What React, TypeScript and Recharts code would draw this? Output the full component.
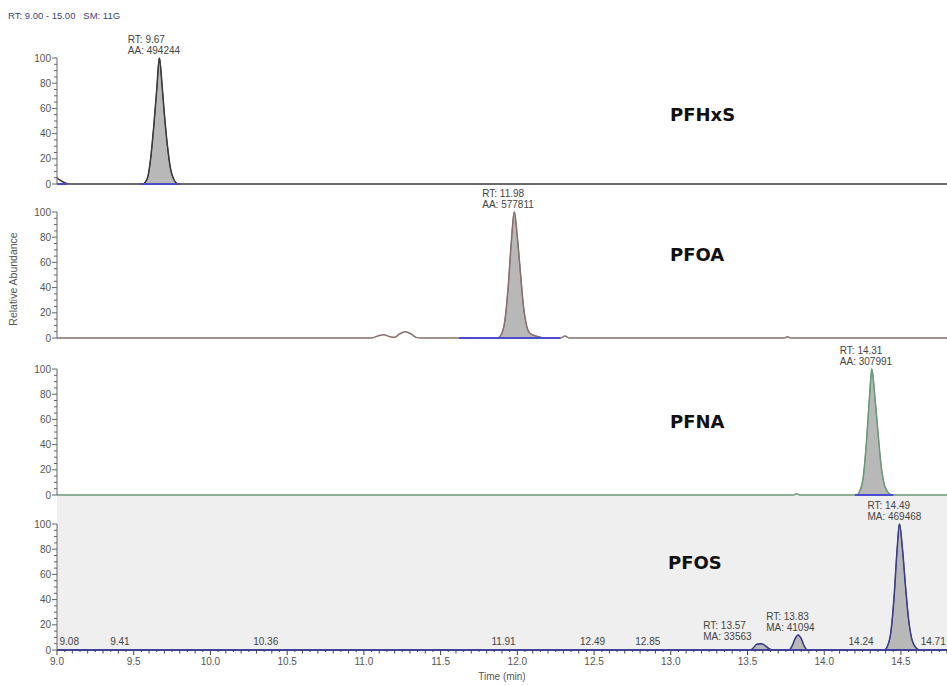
import React from 'react';
import { ComposedChart, Area, Line, XAxis, YAxis, ReferenceDot, ReferenceLine } from 'recharts';

// time axis shown in the picture (the right end is cut off)
const xDomain: [number, number] = [9, 14.8];
const xMajorTicks = [9.0, 9.5, 10.0, 10.5, 11.0, 11.5, 12.0, 12.5, 13.0, 13.5, 14.0, 14.5];
const yMajorTicks = [0, 20, 40, 60, 80, 100];

// PFHxS
const pfhxsTime = [9.0, 9.02, 9.05, 9.08, 9.56, 9.59, 9.61, 9.63, 9.65, 9.667, 9.685, 9.7, 9.72, 9.74, 9.76, 9.79, 14.8];
const pfhxsAbund = [5, 3, 1, 0, 0, 5, 20, 45, 75, 100, 78, 55, 30, 12, 4, 0, 0];
const pfhxsFill = [[9.56, 9.79]];
const pfhxsBase = [[9.0, 9.07], [9.54, 9.8]];
const pfhxsPeaks = [{ rt: 9.67, area: 'AA: 494244', top: 100 }];

// PFOA
const pfoaTime = [9.0, 11.05, 11.1, 11.13, 11.17, 11.2, 11.23, 11.27, 11.31, 11.34, 11.37, 11.87, 11.9, 11.92, 11.94, 11.96, 11.98, 12.0, 12.02, 12.04, 12.06, 12.08, 12.11, 12.14, 12.17, 12.28, 12.31, 12.34, 13.74, 13.76, 13.78, 14.8];
const pfoaAbund = [0, 0, 2, 2.5, 1, 0.5, 3, 5, 3, 0.5, 0, 0, 4, 15, 40, 75, 100, 80, 52, 25, 10, 4, 2, 1, 0, 0, 1.5, 0, 0, 1, 0, 0];
const pfoaFill = [[11.87, 12.17]];
const pfoaBase = [[11.62, 12.28]];
const pfoaPeaks = [{ rt: 11.98, area: 'AA: 577811', top: 100 }];

// PFNA
const pfnaTime = [9.0, 13.8, 13.82, 13.84, 14.21, 14.235, 14.255, 14.275, 14.295, 14.31, 14.33, 14.35, 14.37, 14.39, 14.41, 14.44, 14.8];
const pfnaAbund = [0, 0, 1, 0, 0, 4, 15, 42, 78, 100, 78, 50, 24, 9, 3, 0, 0];
const pfnaFill = [[14.21, 14.44]];
const pfnaBase = [[14.2, 14.45]];
const pfnaPeaks = [{ rt: 14.31, area: 'AA: 307991', top: 100 }];

// PFOS
const pfosTime = [9.0, 13.52, 13.54, 13.56, 13.59, 13.62, 13.64, 13.66, 13.77, 13.79, 13.81, 13.83, 13.85, 13.87, 13.89, 14.39, 14.415, 14.435, 14.455, 14.475, 14.49, 14.51, 14.53, 14.55, 14.57, 14.59, 14.62, 14.8];
const pfosAbund = [0, 0, 2, 4.5, 5, 3, 1, 0, 0, 3, 9, 12, 9, 3, 0, 0, 4, 15, 42, 80, 100, 80, 50, 24, 9, 3, 0, 0];
const pfosFill = [[13.52, 13.66], [13.77, 13.89], [14.39, 14.62]];
const pfosBase = [[9.0, 14.8]];
const pfosPeaks = [
  { rt: 13.57, area: 'MA: 33563', top: 5 },
  { rt: 13.83, area: 'MA: 41094', top: 12 },
  { rt: 14.49, area: 'MA: 469468', top: 100 },
];
const pfosNoiseRT = [9.08, 9.41, 10.36, 11.91, 12.49, 12.85, 14.24, 14.71];

// left shift of each peak label block (layout only)
const labelShift: Record<string, number> = { '13.57': -55 };

const W = 947;
const AXIS_W = 57;
const TOP_PAD = 32;
const PLOT_H = 126;
const X_AXIS_H = 36;
const FONT = 'Arial, "Liberation Sans", sans-serif';
const FS = 10;

function rows(times: number[], abund: number[], fills: number[][]) {
  return times.map((t, i) => ({
    t,
    v: abund[i],
    fill: fills.some(([a, b]) => t >= a - 1e-9 && t <= b + 1e-9) ? abund[i] : null,
  }));
}

const xTicks: number[] = [];
for (let i = 0; i <= 116; i++) xTicks.push(Math.round((9 + i * 0.05) * 100) / 100);
const yTicks: number[] = [];
for (let v = 0; v <= 100; v += 5) yTicks.push(v);

const YTick = (p: any) => {
  const { x, y, payload } = p;
  const v = payload.value;
  const major = yMajorTicks.includes(v);
  return (
    <g>
      <line x1={major ? x - 5 : x - 3} x2={x} y1={y} y2={y} stroke="#666" strokeWidth={1} />
      {major && (
        <text x={x - 6} y={y + 3.5} textAnchor="end" fontSize={FS} fill="#555" fontFamily={FONT}>
          {v}
        </text>
      )}
    </g>
  );
};

const XTick = (p: any) => {
  const { x, y, payload } = p;
  const v = payload.value;
  const major = xMajorTicks.some((m) => Math.abs(m - v) < 1e-6);
  const tenth = Math.abs(v * 10 - Math.round(v * 10)) < 1e-6;
  const len = major ? 5 : tenth ? 3.5 : 2;
  return (
    <g>
      <line x1={x} x2={x} y1={y} y2={y + len} stroke="#444" strokeWidth={1} />
      {major && (
        <text x={x} y={y + 15} textAnchor="middle" fontSize={FS} fill="#555" fontFamily={FONT}>
          {v.toFixed(1)}
        </text>
      )}
    </g>
  );
};

function peakLabel(rt: number, area: string) {
  const dx = labelShift[String(rt)] ?? -32;
  return (p: any) => {
    const vb = p.viewBox || { x: 0, y: 0 };
    return (
      <g>
        <text x={vb.x + dx} y={vb.y - 15} fontSize={FS} fill="#444" fontFamily={FONT}>{`RT: ${rt.toFixed(2)}`}</text>
        <text x={vb.x + dx} y={vb.y - 4} fontSize={FS} fill="#444" fontFamily={FONT}>{area}</text>
      </g>
    );
  };
}

function noiseLabel(rt: number) {
  return (p: any) => {
    const vb = p.viewBox || { x: 0, y: 0 };
    return (
      <text x={vb.x} y={vb.y - 5} textAnchor="middle" fontSize={FS} fill="#444" fontFamily={FONT}>
        {rt.toFixed(2)}
      </text>
    );
  };
}

type PanelProps = {
  top: number;
  data: { t: number; v: number; fill: number | null }[];
  color: string;
  base: number[][];
  peaks: { rt: number; area: string; top: number }[];
  noise?: number[];
  showX?: boolean;
  yLabel?: boolean;
};

function Panel(props: PanelProps) {
  const bottom = props.showX ? 0 : 6;
  const height = TOP_PAD + PLOT_H + (props.showX ? X_AXIS_H : bottom);
  return (
    <div style={{ position: 'absolute', left: 0, top: props.top - TOP_PAD, width: W, height }}>
      <ComposedChart width={W} height={height} data={props.data} margin={{ top: TOP_PAD, right: 0, left: 0, bottom }}>
        <XAxis
          dataKey="t"
          type="number"
          domain={xDomain}
          allowDataOverflow
          ticks={xTicks}
          interval={0}
          hide={!props.showX}
          tickSize={0}
          tickMargin={0}
          tick={<XTick />}
          axisLine={{ stroke: '#3c3c8c', strokeWidth: 1.5 }}
          height={X_AXIS_H}
          label={props.showX ? { value: 'Time (min)', position: 'insideBottom', offset: 6, fontSize: FS, fill: '#555', fontFamily: FONT } : undefined}
        />
        <YAxis
          type="number"
          domain={[0, 100]}
          ticks={yTicks}
          interval={0}
          width={AXIS_W}
          tickSize={0}
          tickMargin={0}
          tick={<YTick />}
          axisLine={{ stroke: '#666' }}
          label={
            props.yLabel
              ? {
                  content: (p: any) => {
                    const vb = p.viewBox;
                    const cx = 17;
                    const cy = vb.y + vb.height / 2 + 4;
                    return (
                      <text x={cx} y={cy} transform={`rotate(-90 ${cx} ${cy})`} textAnchor="middle" fontSize={10.5} fill="#555" fontFamily={FONT}>
                        Relative Abundance
                      </text>
                    );
                  },
                }
              : undefined
          }
        />
        <Area
          type="monotone"
          dataKey="fill"
          stroke={props.color}
          strokeWidth={1}
          fill="#b8b8b8"
          fillOpacity={1}
          connectNulls={false}
          isAnimationActive={false}
        />
        <Line type="monotone" dataKey="v" stroke={props.color} strokeWidth={1.5} dot={false} isAnimationActive={false} />
        {props.base.map(([a, b], i) => (
          <ReferenceLine
            key={'b' + i}
            segment={[{ x: a, y: 0 }, { x: b, y: 0 }]}
            stroke="#4b4bd0"
            strokeWidth={2}
            ifOverflow="visible"
          />
        ))}
        {props.peaks.map((pk) => (
          <ReferenceDot key={'p' + pk.rt} x={pk.rt} y={pk.top} r={0} fill="none" stroke="none" label={peakLabel(pk.rt, pk.area)} />
        ))}
        {(props.noise || []).map((rt) => (
          <ReferenceDot key={'n' + rt} x={rt} y={0} r={0} fill="none" stroke="none" ifOverflow="visible" label={noiseLabel(rt)} />
        ))}
      </ComposedChart>
    </div>
  );
}

const titleStyle: React.CSSProperties = {
  position: 'absolute',
  left: 670,
  fontFamily: '"DejaVu Sans", Verdana, sans-serif',
  fontWeight: 'bold',
  fontSize: 18,
  lineHeight: '20px',
  color: '#111',
};

export default function App() {
  return (
    <div style={{ position: 'absolute', left: 0, top: 0, width: W, height: 686, background: '#fff', overflow: 'hidden' }}>
      <div style={{ position: 'absolute', left: AXIS_W, top: 495, width: W - AXIS_W, height: 155, background: '#efefef' }} />
      <div style={{ position: 'absolute', left: 8, top: 10, fontFamily: FONT, fontSize: 9.5, color: '#3b4386', whiteSpace: 'pre' }}>
        RT: 9.00 - 15.00   SM: 11G
      </div>
      <Panel top={58} data={rows(pfhxsTime, pfhxsAbund, pfhxsFill)} color="#3a3a3a" base={pfhxsBase} peaks={pfhxsPeaks} />
      <Panel top={212} data={rows(pfoaTime, pfoaAbund, pfoaFill)} color="#8a6f6f" base={pfoaBase} peaks={pfoaPeaks} yLabel />
      <Panel top={369} data={rows(pfnaTime, pfnaAbund, pfnaFill)} color="#6a9a7a" base={pfnaBase} peaks={pfnaPeaks} />
      <Panel top={524} data={rows(pfosTime, pfosAbund, pfosFill)} color="#3c3c8c" base={pfosBase} peaks={pfosPeaks} noise={pfosNoiseRT} showX />
      <div style={{ ...titleStyle, top: 105 }}>PFHxS</div>
      <div style={{ ...titleStyle, top: 245 }}>PFOA</div>
      <div style={{ ...titleStyle, top: 412 }}>PFNA</div>
      <div style={{ ...titleStyle, top: 553, left: 668 }}>PFOS</div>
    </div>
  );
}
